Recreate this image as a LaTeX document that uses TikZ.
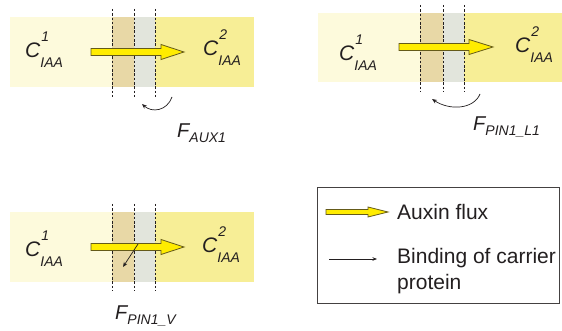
\documentclass[tikz,border=0pt]{standalone}
\usepackage{fontspec}
\setmainfont{Liberation Sans}
\usetikzlibrary{arrows.meta}
\definecolor{paleY}{RGB}{253,250,220}
\definecolor{tanC}{RGB}{232,216,166}
\definecolor{greyC}{RGB}{226,229,220}
\definecolor{yelC}{RGB}{247,238,150}
\definecolor{arrowY}{RGB}{255,236,0}
\definecolor{arrowE}{RGB}{100,90,25}
\definecolor{inkC}{RGB}{35,31,32}
\newcommand\cconc[1]{\fontsize{21}{21}\selectfont\itshape C\makebox[0pt][l]{\kern1pt\raisebox{16pt}{\fontsize{14}{14}\selectfont #1}}\raisebox{-10pt}{\fontsize{14}{14}\selectfont IAA}}
\newcommand\fflux[1]{\fontsize{20}{20}\selectfont\itshape F\raisebox{-5pt}{\fontsize{14}{14}\selectfont #1}}
% x1 x2 y shafthalf headhalf headlen
\newcommand\fluxarrow[6]{\filldraw[fill=arrowY,draw=arrowE,line width=0.8pt,line join=miter]
 (#1,#3-#4) -- (#2-#6,#3-#4) -- (#2-#6,#3-#5) -- (#2,#3) -- (#2-#6,#3+#5) -- (#2-#6,#3+#4) -- (#1,#3+#4) -- cycle;}
% membrane panel: x0 (band left) x1 (first dashed) x2 x3 xend ytop ybot dtop dbot
\newcommand\panel[9]{%
 \fill[paleY] (#1,#6) rectangle (#2,#7);
 \fill[tanC] (#2,#6) rectangle (#3,#7);
 \fill[greyC] (#3,#6) rectangle (#4,#7);
 \fill[yelC] (#4,#6) rectangle (#5,#7);
 \draw[memb] (#2,#8) -- (#2,#9);
 \draw[memb] (#3,#8) -- (#3,#9);
 \draw[memb] (#4,#8) -- (#4,#9);}
\begin{document}
\begin{tikzpicture}[x=1pt,y=-1pt,
  memb/.style={inkC,line width=0.8pt,dash pattern=on 2.5pt off 1.8pt},
  lbl/.style={anchor=base west,inner sep=0,text=inkC},
  bind/.style={inkC,line width=0.7pt,-{Stealth[length=5pt,width=4pt]}},
  legtext/.style={anchor=base west,inner sep=0,text=inkC,font=\fontsize{21}{26}\selectfont}]
\path[use as bounding box] (0,0) rectangle (562,331);
\fill[white] (0,0) rectangle (562,331);
% panel 1
\panel{10}{112}{134}{155}{254}{17}{87}{9}{97}
\fluxarrow{91}{184}{52}{3.5}{7.5}{23}
\node[lbl] (c11) at (25,58) {\cconc{1}};
\node[lbl] (c12) at (203,56) {\cconc{2}};
\node[lbl] (faux) at (177,138) {\fflux{AUX1}};
\coordinate (a1s) at (172,97);
\coordinate (a1e) at (142,104);
\draw[bind] (a1s) .. controls (167,111) and (152,113) .. (a1e);
% panel 2
\panel{318}{420}{443}{464}{562}{13}{82}{5}{92}
\fluxarrow{399}{493}{47}{3.5}{7.5}{24}
\node[lbl] (c21) at (339,61) {\cconc{1}};
\node[lbl] (c22) at (515,53) {\cconc{2}};
\node[lbl] (fpl) at (473,131) {\fflux{PIN1\_L1}};
\coordinate (a2s) at (480,94);
\coordinate (a2e) at (432,99);
\draw[bind] (a2s) .. controls (474,109) and (450,111) .. (a2e);
% panel 3
\panel{10}{112}{134}{155}{254}{212}{282}{204}{291}
\fluxarrow{91}{184}{247}{3.5}{7.5}{23}
\node[lbl] (c31) at (25,256) {\cconc{1}};
\node[lbl] (c32) at (202,252) {\cconc{2}};
\node[lbl] (fpv) at (115,319) {\fflux{PIN1\_V}};
\coordinate (a3s) at (138,244);
\coordinate (a3e) at (123,267);
\draw[bind] (a3s) -- (a3e);
% legend
\node[draw=inkC!85,line width=0.9pt,anchor=north west,inner sep=0,minimum width=242pt,minimum height=116pt] (legend) at (317,187) {};
\fluxarrow{326}{388}{212}{2.5}{5}{20}
\node[legtext] (lflux) at (397,219) {Auxin flux};
\coordinate (lbs) at (329,259);
\coordinate (lbe) at (377,259);
\draw[bind,line width=0.6pt,-{Stealth[length=4.5pt,width=3.5pt]}] (lbs) -- (lbe);
\node[legtext] (lbind) at (397,263) {Binding of carrier};
\node[legtext] (lprot) at (397,289) {protein};
\end{tikzpicture}
\end{document}
